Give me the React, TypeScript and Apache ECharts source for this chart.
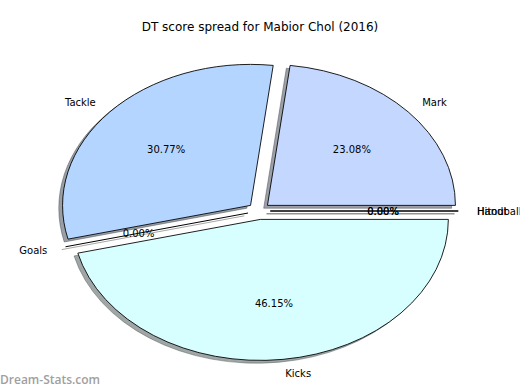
import React, { useEffect, useRef } from "react";
import * as echarts from "echarts";

const categories = ["Mark", "Tackle", "Goals", "Kicks", "Handball", "Hitout"];
const values = [3, 4, 0, 6, 0, 0];
const sliceColors = ["#c4d7ff", "#b3d5ff", "#9fc5e8", "#d8ffff", "#9fc5e8", "#9fc5e8"];
const titleText = "DT score spread for Mabior Chol (2016)";
const watermark = "Dream-Stats.com";

const CX = 259;
const CY = 211;
const RX = 188;
const RY = 141;
const EXPLODE = 0.06;
const SHADOW = 0.02;
const LABEL_R = 1.1;
const PCT_R = 0.6;
const FONT = "DejaVu Sans, sans-serif";

const total = values.reduce((a, b) => a + b, 0);

function hexToRgb(h: string) {
  const n = parseInt(h.slice(1), 16);
  return [(n >> 16) & 255, (n >> 8) & 255, n & 255];
}
function shadowColor(h: string) {
  const [r, g, b] = hexToRgb(h);
  return `rgba(${Math.round(r * 0.3)},${Math.round(g * 0.3)},${Math.round(b * 0.3)},0.5)`;
}

function geom(idx: number) {
  let cum = 0;
  for (let i = 0; i < idx; i++) cum += values[i];
  const t1 = (360 * cum) / total;
  const t2 = t1 + (360 * values[idx]) / total;
  const mid = (t1 + t2) / 2;
  const m = (mid * Math.PI) / 180;
  const ox = CX + EXPLODE * RX * Math.cos(m);
  const oy = CY - EXPLODE * RY * Math.sin(m);
  return { t1, t2, m, ox, oy };
}

function makeRender(isShadow: boolean) {
  return (params: any, api: any) => {
    const idx = params.dataIndex;
    const v = api.value(0);
    const { t1, t2, m, ox, oy } = geom(idx);
    const dx = isShadow ? -SHADOW * RX : 0;
    const dy = isShadow ? SHADOW * RY : 0;
    const color = sliceColors[idx];
    const fill = isShadow ? shadowColor(color) : color;
    const stroke = isShadow ? shadowColor(color) : "#000";
    const children: any[] = [];
    if (v > 0) {
      children.push({
        type: "sector",
        x: ox + dx,
        y: oy + dy,
        scaleX: 1,
        scaleY: RY / RX,
        shape: {
          cx: 0,
          cy: 0,
          r0: 0,
          r: RX,
          startAngle: (-t2 * Math.PI) / 180,
          endAngle: (-t1 * Math.PI) / 180,
          clockwise: true,
        },
        style: { fill, stroke, lineWidth: 1, strokeNoScale: true },
      });
    } else {
      const a = (t1 * Math.PI) / 180;
      children.push({
        type: "line",
        shape: {
          x1: ox + dx,
          y1: oy + dy,
          x2: ox + dx + RX * Math.cos(a),
          y2: oy + dy - RY * Math.sin(a),
        },
        style: { stroke: isShadow ? "rgba(0,0,0,0.35)" : "#000", lineWidth: 1 },
      });
    }
    if (!isShadow) {
      const lx = ox + LABEL_R * RX * Math.cos(m);
      const ly = oy - LABEL_R * RY * Math.sin(m);
      children.push({
        type: "text",
        x: lx,
        y: ly,
        style: {
          text: categories[idx],
          fill: "#000",
          font: `10px ${FONT}`,
          align: lx - CX > 0 ? "left" : "right",
          verticalAlign: "middle",
        },
      });
      const px = ox + PCT_R * RX * Math.cos(m);
      const py = oy - PCT_R * RY * Math.sin(m);
      children.push({
        type: "text",
        x: px,
        y: py,
        style: {
          text: ((100 * v) / total).toFixed(2) + "%",
          fill: "#000",
          font: `10px ${FONT}`,
          align: "center",
          verticalAlign: "middle",
        },
      });
    }
    return { type: "group", children };
  };
}

export default function App() {
  const ref = useRef<HTMLDivElement>(null);
  useEffect(() => {
    document.body.style.margin = "0";
    const chart = echarts.init(ref.current!, null, { renderer: "svg" });
    const data = values.map((v, i) => ({ name: categories[i], value: [v] }));
    chart.setOption({
      animation: false,
      backgroundColor: "#fff",
      title: {
        text: titleText,
        left: "center",
        top: 16,
        textStyle: { fontFamily: FONT, fontSize: 12, fontWeight: "normal", color: "#000" },
      },
      graphic: [
        {
          type: "text",
          left: 0,
          top: 373,
          style: {
            text: watermark,
            fill: "#a0a0a0",
            font: `600 12px "Open Sans", sans-serif`,
          },
        },
      ],
      series: [
        {
          type: "custom",
          coordinateSystem: "none",
          renderItem: makeRender(true),
          data,
          z: 1,
          silent: true,
        },
        {
          type: "custom",
          coordinateSystem: "none",
          renderItem: makeRender(false),
          data,
          z: 2,
          silent: true,
        },
      ],
    });
    return () => chart.dispose();
  }, []);
  return <div ref={ref} style={{ width: 520, height: 390 }} />;
}
